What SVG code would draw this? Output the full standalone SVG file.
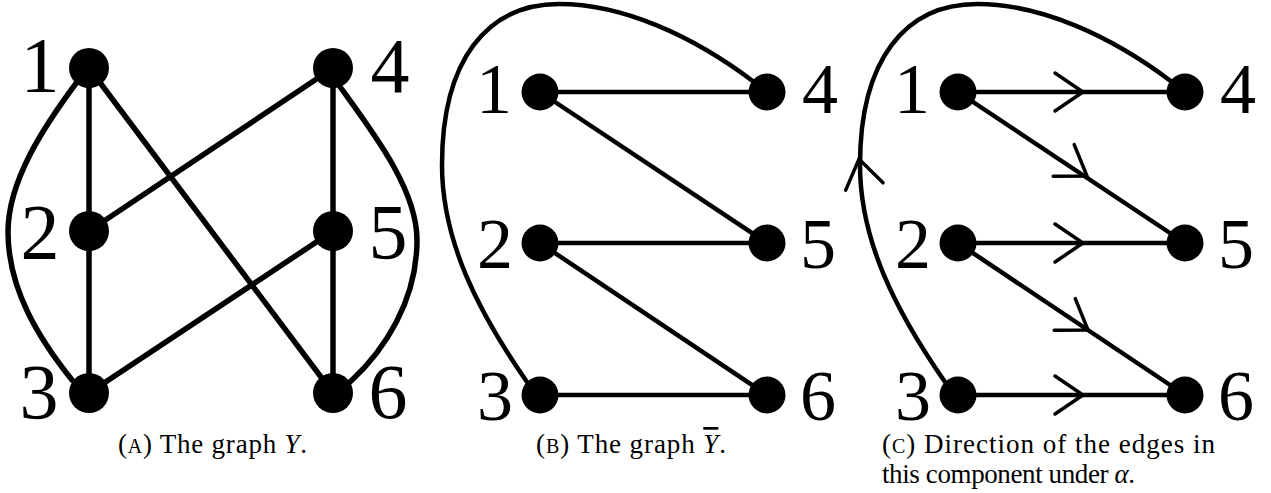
<svg xmlns="http://www.w3.org/2000/svg" xmlns:xlink="http://www.w3.org/1999/xlink" width="1271" height="493" viewBox="0 0 1271 493">
<style>
.bg{fill:#fff}
.ea{stroke:#000;stroke-width:5.5;fill:none;stroke-linecap:round}
.eb{stroke:#000;stroke-width:4.5;fill:none;stroke-linecap:round}
.arr{stroke:#000;stroke-width:3.5;fill:none;stroke-linecap:round;stroke-linejoin:miter}
.nd{fill:#000}
.la{font-family:"Liberation Serif",serif;font-size:78px;fill:#000;text-anchor:middle}
.lb{font-family:"Liberation Serif",serif;font-size:72px;fill:#000;text-anchor:middle}
.cap{font-family:"Liberation Serif",serif;font-size:27px;fill:#000}
.sc{font-size:20px}
.it{font-style:italic}
</style>
<defs>
<path id="ah" d="M -28,-19 L 0,0 L -28,19"/>
</defs>
<rect class="bg" x="0" y="0" width="1271" height="493"/>

<g id="connectors">
  <g id="edges-a">
    <line class="ea" x1="89" y1="68" x2="89" y2="231"/>
    <line class="ea" x1="89" y1="231" x2="89" y2="393"/>
    <line class="ea" x1="89" y1="68" x2="333" y2="393"/>
    <line class="ea" x1="333" y1="68" x2="89" y2="231"/>
    <line class="ea" x1="333" y1="231" x2="89" y2="393"/>
    <line class="ea" x1="333" y1="68" x2="333" y2="231"/>
    <line class="ea" x1="333" y1="231" x2="333" y2="393"/>
    <path class="ea" d="M 77,82 C 45,125 8,180 8,232 C 8,290 40,340 72,380"/>
    <path class="ea" d="M 338,84 C 375,135 417,190 417,240 C 417,300 385,350 350,382"/>
  </g>
  <g id="edges-b">
    <line class="eb" x1="540" y1="92" x2="767" y2="92"/>
    <line class="eb" x1="540" y1="92" x2="767" y2="243"/>
    <line class="eb" x1="540" y1="243" x2="767" y2="243"/>
    <line class="eb" x1="540" y1="243" x2="767" y2="395"/>
    <line class="eb" x1="540" y1="395" x2="767" y2="395"/>
    <path class="eb" d="M 527,382 C 477,310 442,240 442,165 C 442,60 487,4 559,4 C 622,4 692,35 754,82"/>
  </g>
  <g id="edges-c">
    <line class="eb" x1="958" y1="92" x2="1185" y2="92"/>
    <line class="eb" x1="958" y1="92" x2="1185" y2="243"/>
    <line class="eb" x1="958" y1="243" x2="1185" y2="243"/>
    <line class="eb" x1="958" y1="243" x2="1185" y2="395"/>
    <line class="eb" x1="958" y1="395" x2="1185" y2="395"/>
    <path class="eb" d="M 945,382 C 895,310 860,240 860,165 C 860,60 905,4 977,4 C 1040,4 1110,35 1172,82"/>
    <use xlink:href="#ah" class="arr" transform="translate(1083,92)"/>
    <use xlink:href="#ah" class="arr" transform="translate(1083,243)"/>
    <use xlink:href="#ah" class="arr" transform="translate(1083,395)"/>
    <use xlink:href="#ah" class="arr" transform="translate(1087,176) rotate(33.6)"/>
    <use xlink:href="#ah" class="arr" transform="translate(1088,330) rotate(33.8)"/>
    <use xlink:href="#ah" class="arr" transform="translate(859,159) rotate(-101)"/>
  </g>
</g>

<g id="a-node1"><circle class="nd" cx="89" cy="68" r="20"/><text class="la" x="40" y="91">1</text></g>
<g id="a-node2"><circle class="nd" cx="89" cy="231" r="20"/><text class="la" x="40" y="258">2</text></g>
<g id="a-node3"><circle class="nd" cx="89" cy="393" r="20"/><text class="la" x="39" y="418">3</text></g>
<g id="a-node4"><circle class="nd" cx="333" cy="68" r="20"/><text class="la" x="390" y="92">4</text></g>
<g id="a-node5"><circle class="nd" cx="333" cy="231" r="20"/><text class="la" x="388" y="258">5</text></g>
<g id="a-node6"><circle class="nd" cx="333" cy="393" r="20"/><text class="la" x="388" y="418">6</text></g>

<g id="b-node1"><circle class="nd" cx="540" cy="92" r="18.5"/><text class="lb" x="494" y="113">1</text></g>
<g id="b-node2"><circle class="nd" cx="540" cy="243" r="18.5"/><text class="lb" x="495" y="268">2</text></g>
<g id="b-node3"><circle class="nd" cx="540" cy="395" r="18.5"/><text class="lb" x="495" y="420">3</text></g>
<g id="b-node4"><circle class="nd" cx="767" cy="92" r="18.5"/><text class="lb" x="820" y="113">4</text></g>
<g id="b-node5"><circle class="nd" cx="767" cy="243" r="18.5"/><text class="lb" x="818" y="268">5</text></g>
<g id="b-node6"><circle class="nd" cx="767" cy="395" r="18.5"/><text class="lb" x="818" y="420">6</text></g>

<g id="c-node1"><circle class="nd" cx="958" cy="92" r="18.5"/><text class="lb" x="912" y="113">1</text></g>
<g id="c-node2"><circle class="nd" cx="958" cy="243" r="18.5"/><text class="lb" x="913" y="268">2</text></g>
<g id="c-node3"><circle class="nd" cx="958" cy="395" r="18.5"/><text class="lb" x="913" y="420">3</text></g>
<g id="c-node4"><circle class="nd" cx="1185" cy="92" r="18.5"/><text class="lb" x="1238" y="113">4</text></g>
<g id="c-node5"><circle class="nd" cx="1185" cy="243" r="18.5"/><text class="lb" x="1236" y="268">5</text></g>
<g id="c-node6"><circle class="nd" cx="1185" cy="395" r="18.5"/><text class="lb" x="1236" y="420">6</text></g>

<g id="captions">
  <text class="cap" x="118" y="453" textLength="189" lengthAdjust="spacing">(<tspan class="sc">A</tspan>) The graph <tspan class="it">Y</tspan>.</text>
  <text class="cap" x="536" y="453" textLength="190" lengthAdjust="spacing">(<tspan class="sc">B</tspan>) The graph <tspan class="it" style="text-decoration:overline">Y</tspan>.</text>
  <text class="cap" x="882" y="453" textLength="333" lengthAdjust="spacing">(<tspan class="sc">C</tspan>) Direction of the edges in</text>
  <text class="cap" x="882" y="483" textLength="253" lengthAdjust="spacing">this component under <tspan class="it">α</tspan>.</text>
</g>
</svg>
